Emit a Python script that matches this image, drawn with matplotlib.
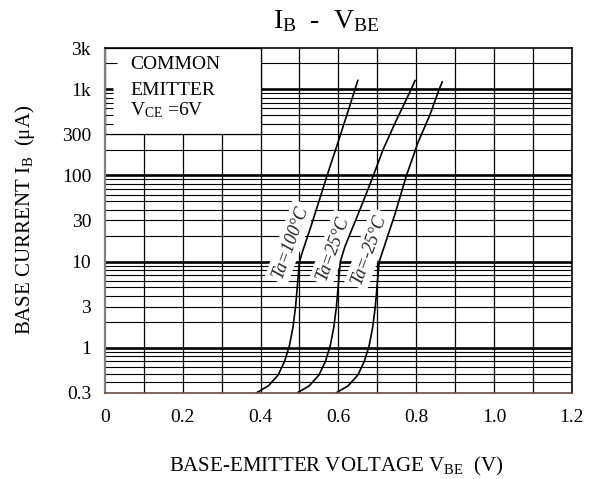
import numpy as np
import matplotlib
matplotlib.use("Agg")
import matplotlib.pyplot as plt
from matplotlib.patches import Rectangle

plt.rcParams["font.family"] = ["Liberation Serif", "DejaVu Serif"]
plt.rcParams["mathtext.fontset"] = "custom"
plt.rcParams["mathtext.rm"] = "Liberation Serif"
plt.rcParams["mathtext.it"] = "Liberation Serif:italic"

# I_B vs V_BE for three ambient temperatures (V_CE = 6 V)
vbe_100 = [0.39, 0.42, 0.445, 0.462, 0.474, 0.483, 0.49, 0.495, 0.50, 0.51, 0.53, 0.55, 0.571, 0.60, 0.625, 0.65]
ib_100 = [0.3, 0.36, 0.48, 0.7, 1.05, 1.7, 3.0, 5.5, 10, 14, 26, 50, 100, 250, 560, 1270]

vbe_25 = [0.495, 0.525, 0.55, 0.567, 0.579, 0.588, 0.595, 0.600, 0.605, 0.617, 0.64, 0.664, 0.69, 0.715, 0.745, 0.787, 0.797]
ib_25 = [0.3, 0.36, 0.48, 0.7, 1.05, 1.7, 3.0, 5.5, 10, 15, 27, 50, 100, 200, 400, 1000, 1265]

vbe_m25 = [0.595, 0.625, 0.65, 0.667, 0.679, 0.688, 0.695, 0.700, 0.705, 0.718, 0.745, 0.775, 0.806, 0.835, 0.859, 0.867]
ib_m25 = [0.3, 0.36, 0.48, 0.7, 1.05, 1.7, 3.0, 5.5, 10, 15, 35, 100, 250, 500, 1000, 1220]

curve_labels = ["Ta=100°C", "Ta=25°C", "Ta=-25°C"]
label_pos = [(0.476, 16.8), (0.586, 14.3), (0.679, 14.0)]

x_ticks = [0, 0.2, 0.4, 0.6, 0.8, 1.0, 1.2]
x_ticklabels = ["0", "0.2", "0.4", "0.6", "0.8", "1.0", "1.2"]
y_ticks = [0.3, 1, 3, 10, 30, 100, 300, 1000, 3000]
y_ticklabels = ["0.3", "1", "3", "10", "30", "100", "300", "1k", "3k"]

X_MIN, X_MAX = 0.0, 1.2
Y_MIN, Y_MAX = 0.3, 3000
BOX_X, BOX_Y = 0.4, 300  # corner of the condition box

fig = plt.figure(figsize=(5.91, 4.79), dpi=100)
ax = fig.add_axes([0.1777, 0.1802, 0.7897, 0.719])
ax.set_xlim(X_MIN, X_MAX)
ax.set_yscale("log")
ax.set_ylim(Y_MIN, Y_MAX)

# grid: vertical every 0.1 V, horizontal at every log step
for x in np.arange(0.1, 1.2, 0.1):
    ax.axvline(x, color="black", lw=0.9, zorder=1)

y_lines = [m * 10.0 ** e for e in range(-1, 4) for m in range(1, 10)]
y_lines = [v for v in y_lines if Y_MIN < v < Y_MAX]
for y in y_lines:
    major = abs(np.log10(y) - round(np.log10(y))) < 1e-9
    ax.axhline(y, color="black", lw=1.9 if major else 0.8, zorder=1)

# condition box in the upper-left corner
ax.add_patch(Rectangle((X_MIN, BOX_Y), BOX_X - X_MIN, Y_MAX - BOX_Y,
                       facecolor="white", edgecolor="black", lw=0.9, zorder=2))
for y in y_lines:
    if BOX_Y < y < Y_MAX:
        major = abs(np.log10(y) - round(np.log10(y))) < 1e-9
        stub = 0.03 if y == 2000 else 0.02
        ax.hlines(y, X_MIN, X_MIN + stub, color="black",
                  lw=1.9 if major else 0.8, zorder=3)

ax.text(0.054, 0.94, "COMMON", transform=ax.transAxes, fontsize=14, va="baseline", zorder=4)
ax.text(0.054, 0.864, "EMITTER", transform=ax.transAxes, fontsize=14, va="baseline", zorder=4)
ax.text(0.054, 0.806, r"V$_\mathrm{CE}$ =6V", transform=ax.transAxes, fontsize=14, va="baseline", zorder=4)

for (lx, ly), txt in zip(label_pos, curve_labels):
    ax.text(lx, ly, txt, fontsize=13, style="italic", rotation=70, color="#222222",
            ha="center", va="center", rotation_mode="anchor", zorder=4,
            bbox=dict(boxstyle="square,pad=0.2", fc="white", ec="none"))

for v, i in [(vbe_100, ib_100), (vbe_25, ib_25), (vbe_m25, ib_m25)]:
    ax.plot(v, i, color="black", lw=1.2, zorder=5)

ax.set_xticks(x_ticks)
ax.set_xticklabels(x_ticklabels)
ax.set_yticks(y_ticks)
ax.set_yticklabels(y_ticklabels)
ax.yaxis.set_minor_locator(matplotlib.ticker.NullLocator())
ax.tick_params(axis="both", length=0, labelsize=14)
ax.tick_params(axis="x", pad=12)
ax.tick_params(axis="y", pad=10)

for side in ["top", "right"]:
    ax.spines[side].set_linewidth(1.2)
ax.spines["left"].set_color("#808080")
ax.spines["left"].set_linewidth(1.6)
ax.spines["bottom"].set_color("#6b4c45")
ax.spines["bottom"].set_linewidth(1.2)
for sp in ax.spines.values():
    sp.set_zorder(6)

fig.text(326 / 591, 1 - 21 / 479, r"I$_\mathrm{B}$  -  V$_\mathrm{BE}$",
         ha="center", va="center", fontsize=20)
fig.text(336 / 591, 1 - 466 / 479, r"BASE-EMITTER VOLTAGE V$_\mathrm{BE}$  (V)",
         ha="center", va="center", fontsize=15)
fig.text(25 / 591, 1 - 220 / 479, r"BASE CURRENT I$_\mathrm{B}$  (μA)",
         ha="center", va="center", rotation=90, fontsize=15)

fig.savefig("out.png", dpi=100)
